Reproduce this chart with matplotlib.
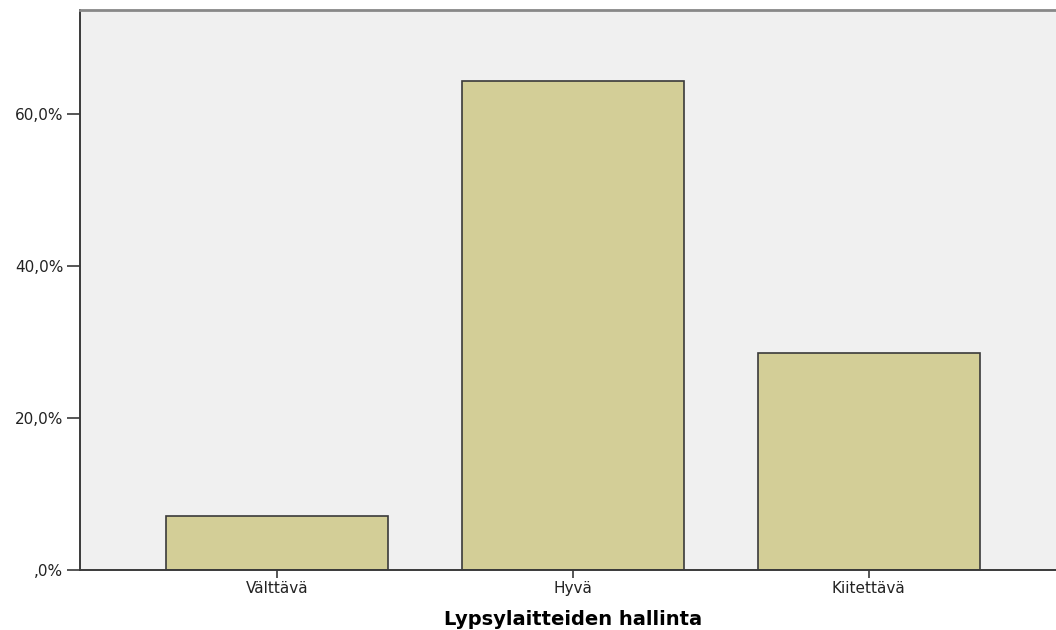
import matplotlib.pyplot as plt
import matplotlib.ticker as mticker

# data
categories = ["Välttävä", "Hyvä", "Kiitettävä"]
percent = [7.1, 64.3, 28.6]

fig = plt.figure(figsize=(10.56, 6.3), dpi=100)
ax = fig.add_axes([0.0758, 0.0952, 0.934, 0.889])
ax.set_facecolor("#f0f0f0")

ax.bar(range(len(categories)), percent, width=0.75, color="#d3ce97",
       edgecolor="#3a3a3a", linewidth=1.2, zorder=2)

ax.set_xlim(-0.666, 2.668)
ax.set_ylim(0, 73.7)
ax.set_xticks(range(len(categories)))
ax.set_xticklabels(categories)
ax.set_yticks([0, 20, 40, 60])
ax.yaxis.set_major_formatter(mticker.FuncFormatter(
    lambda v, p: ",0%" if v == 0 else f"{v:.1f}%".replace(".", ",")))

ax.tick_params(axis="y", length=9.5, width=1.2, color="#3a3a3a", labelsize=11,
               labelcolor="#222222", pad=2.5)
ax.tick_params(axis="x", length=6, width=1.2, color="#3a3a3a", labelsize=11,
               labelcolor="#222222", pad=2)

for side in ["left", "bottom"]:
    ax.spines[side].set_color("#3a3a3a")
    ax.spines[side].set_linewidth(1.4)
ax.spines["top"].set_color("#888888")
ax.spines["top"].set_linewidth(2)
ax.spines["right"].set_visible(False)

ax.set_xlabel("Lypsylaitteiden hallinta", fontsize=14, fontweight="bold")
ax.xaxis.set_label_coords(493 / 986, -0.072)

plt.savefig("out.png", dpi=100)
